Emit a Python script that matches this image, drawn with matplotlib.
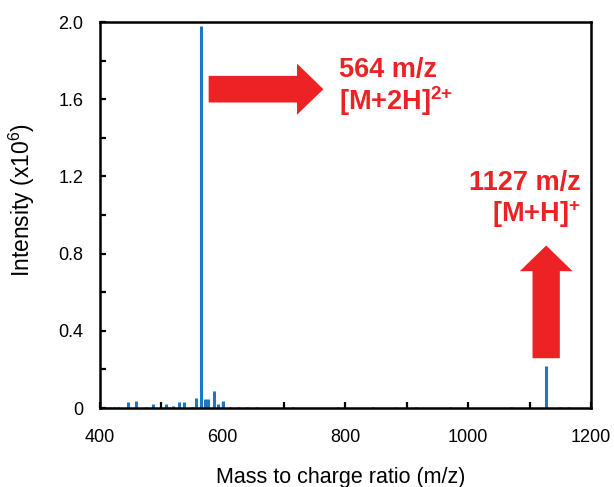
import matplotlib
matplotlib.use('Agg')
import matplotlib.pyplot as plt
from matplotlib.patches import FancyArrow
from matplotlib.ticker import MultipleLocator, FixedLocator, FixedFormatter

plt.rcParams['font.family'] = ['Liberation Sans', 'DejaVu Sans']
plt.rcParams['mathtext.fontset'] = 'custom'
plt.rcParams['mathtext.rm'] = 'Liberation Sans'
plt.rcParams['mathtext.bf'] = 'Liberation Sans:bold'

# peak list: m/z and intensity (x10^6)
mz = [410, 416, 422, 430, 445, 459, 475, 487, 507, 513, 519, 529, 537,
      550, 557, 564, 571, 576, 585, 593, 600, 611, 625, 640, 655, 714,
      788, 844, 883, 915, 971, 1070, 1127, 1149, 1165]
intensity = [0.005, 0.004, 0.006, 0.004, 0.033, 0.038, 0.004, 0.019,
             0.020, 0.005, 0.008, 0.033, 0.033, 0.006, 0.052, 1.98, 0.047,
             0.045, 0.086, 0.020, 0.038, 0.006, 0.004, 0.004, 0.004,
             0.006, 0.005, 0.005, 0.006, 0.005, 0.006, 0.005, 0.22,
             0.006, 0.005]

xticks = [400, 600, 800, 1000, 1200]
yticks = [0, 0.4, 0.8, 1.2, 1.6, 2.0]
ytick_labels = ['0', '0.4', '0.8', '1.2', '1.6', '2.0']

RED = '#ed2224'
BLUE = '#1f77c4'

fig = plt.figure(figsize=(6.14, 4.87), dpi=100)
ax = fig.add_axes([0.1629, 0.1622, 0.7996, 0.7926])

ax.vlines(mz, 0, intensity, color=BLUE, linewidth=2.2)

ax.set_xlim(400, 1200)
ax.set_ylim(0, 2.0)
ax.xaxis.set_major_locator(FixedLocator(xticks))
ax.xaxis.set_minor_locator(MultipleLocator(100))
ax.yaxis.set_major_locator(FixedLocator(yticks))
ax.yaxis.set_major_formatter(FixedFormatter(ytick_labels))
ax.yaxis.set_minor_locator(MultipleLocator(0.2))
ax.tick_params(which='both', direction='in', length=4, width=1.6,
               labelsize=13)
ax.tick_params(axis='x', pad=15)
ax.tick_params(axis='y', pad=12)
for s in ax.spines.values():
    s.set_linewidth(1.8)

ax.set_xlabel('Mass to charge ratio (m/z)', fontsize=15.5, va='top')
ax.set_ylabel('Intensity (x10$^6$)', fontsize=16.5)
ax.xaxis.set_label_coords(0.49, -0.152)
ax.yaxis.set_label_coords(-0.128, 0.54)

# arrows pointing at the two ions
ax.add_patch(FancyArrow(577, 1.652, 187, 0, width=0.138, head_width=0.265,
                        head_length=43, length_includes_head=True,
                        color=RED, linewidth=0))
ax.add_patch(FancyArrow(1127, 0.258, 0, 0.584, width=44.5, head_width=86,
                        head_length=0.133, length_includes_head=True,
                        color=RED, linewidth=0))

label_kw = dict(color=RED, fontsize=19.5, fontweight='bold', va='baseline')
ax.text(789, 1.716, '564 m/z', ha='left', **label_kw)
ax.text(789, 1.544, r'[M+2H]$^{\mathbf{2{+}}}$', ha='left', **label_kw)
ax.text(1183, 1.130, '1127 m/z', ha='right', **label_kw)
ax.text(1183, 0.966, r'[M+H]$^{\mathbf{{+}}}$', ha='right', **label_kw)

fig.savefig('out.png', dpi=100)
